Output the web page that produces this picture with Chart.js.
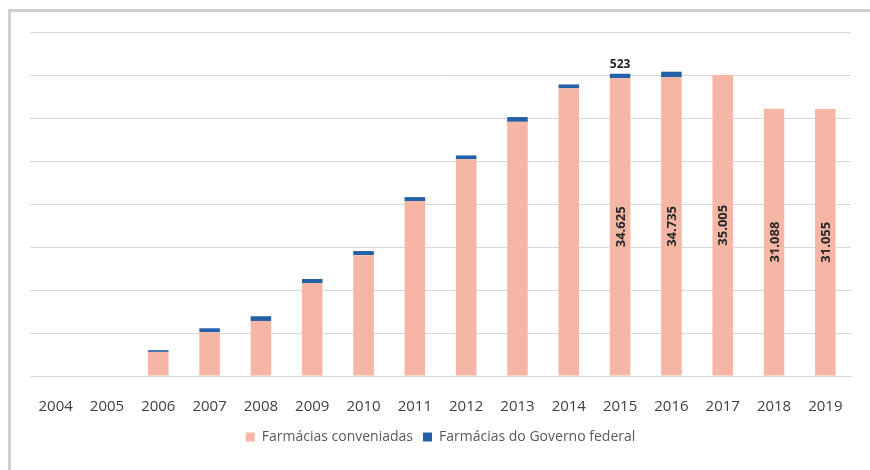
<!DOCTYPE html>
<html>
<head>
<meta charset="utf-8">
<script src="https://cdn.jsdelivr.net/npm/chart.js@4"></script>
<style>
  html, body { margin: 0; padding: 0; background: #ffffff; }
  #wrap { position: relative; width: 870px; height: 470px; }
  #frame { position: absolute; left: 8px; top: 9px; width: 870px; height: 470px;
           border-left: 3px solid #cfcfcf; border-top: 3px solid #cfcfcf; box-sizing: border-box; }
  canvas { position: absolute; left: 0; top: 0; }
</style>
</head>
<body>
<div id="wrap">
  <div id="frame"></div>
  <canvas id="c" width="870" height="470"></canvas>
</div>
<script>
const years = ['2004','2005','2006','2007','2008','2009','2010','2011','2012','2013','2014','2015','2016','2017','2018','2019'];
const conveniadas = [0, 0, 2800, 5100, 6400, 10800, 14050, 20350, 25200, 29550, 33450, 34625, 34735, 35005, 31088, 31055];
const governo = [0, 0, 200, 450, 550, 480, 480, 450, 450, 560, 450, 523, 650, 0, 0, 0];
const labeledConveniadas = ['2015','2016','2017','2018','2019'];
const labeledGoverno = ['2015'];
const yTicks = [0, 5000, 10000, 15000, 20000, 25000, 30000, 35000, 40000];

function fmt(v) {
  return String(v).replace(/\B(?=(\d{3})+(?!\d))/g, '.');
}

const labelPlugin = {
  id: 'valueLabels',
  afterDatasetsDraw(chart) {
    const ctx = chart.ctx;
    ctx.save();
    ctx.fillStyle = '#262626';
    const m0 = chart.getDatasetMeta(0);
    ctx.font = 'bold 13px "Open Sans", sans-serif';
    years.forEach((y, i) => {
      if (!labeledConveniadas.includes(y)) return;
      const bar = m0.data[i];
      const cy = (bar.y + bar.base) / 2;
      ctx.save();
      ctx.translate(bar.x, cy);
      ctx.rotate(-Math.PI / 2);
      ctx.textAlign = 'center';
      ctx.textBaseline = 'middle';
      ctx.fillText(fmt(conveniadas[i]), 0, 1);
      ctx.restore();
    });
    const m1 = chart.getDatasetMeta(1);
    ctx.font = 'bold 12px "Open Sans", sans-serif';
    years.forEach((y, i) => {
      if (!labeledGoverno.includes(y)) return;
      const bar = m1.data[i];
      ctx.textAlign = 'center';
      ctx.textBaseline = 'bottom';
      ctx.fillText(fmt(governo[i]), bar.x, bar.y - 3);
    });
    ctx.restore();
  }
};

new Chart(document.getElementById('c'), {
  type: 'bar',
  data: {
    labels: years,
    datasets: [
      { label: 'Farmácias conveniadas', data: conveniadas, backgroundColor: '#f5b6a5', barPercentage: 0.4, categoryPercentage: 1 },
      { label: 'Farmácias do Governo federal', data: governo, backgroundColor: '#2460a7', barPercentage: 0.4, categoryPercentage: 1 }
    ]
  },
  options: {
    responsive: false,
    animation: false,
    devicePixelRatio: 1,
    layout: { padding: { left: 30, right: 19, top: 32, bottom: 16 } },
    scales: {
      x: {
        stacked: true,
        grid: { display: false },
        border: { color: '#d9d9d9', width: 1 },
        ticks: { color: '#404040', font: { family: '"Open Sans", sans-serif', size: 15 }, padding: 14, maxRotation: 0, autoSkip: false },
        afterFit(axis) { axis.height = axis.height - 10; }
      },
      y: {
        stacked: true,
        min: 0, max: 40000,
        afterBuildTicks(axis) { axis.ticks = yTicks.map(v => ({ value: v })); },
        ticks: { display: false },
        grid: { color: '#d9d9d9', drawTicks: false },
        border: { display: false }
      }
    },
    plugins: {
      legend: {
        position: 'bottom',
        labels: { boxWidth: 9, boxHeight: 9, padding: 10, color: '#595959', font: { family: '"Open Sans", sans-serif', size: 14 } }
      },
      tooltip: { enabled: false }
    }
  },
  plugins: [labelPlugin]
});
</script>
</body>
</html>
